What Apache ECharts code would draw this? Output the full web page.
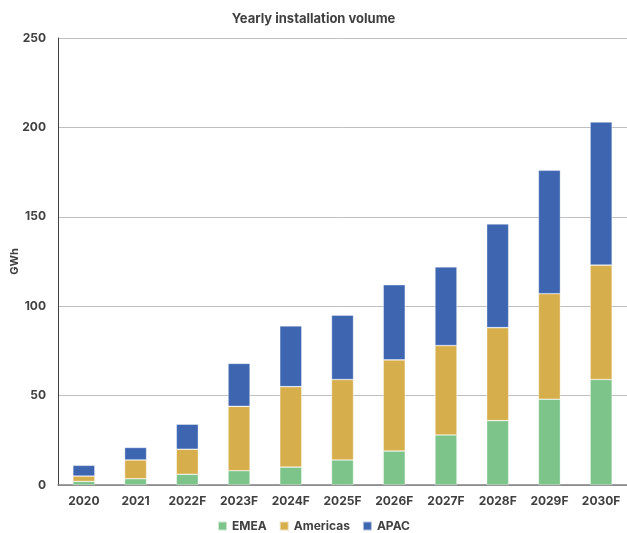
<!DOCTYPE html>
<html><head><meta charset="utf-8">
<script src="https://cdn.jsdelivr.net/npm/echarts@6/dist/echarts.min.js"></script>
<style>html,body{margin:0;padding:0;background:#fff}#c{width:627px;height:533px}</style>
</head><body><div id="c"></div>
<script>
const categories = ['2020','2021','2022F','2023F','2024F','2025F','2026F','2027F','2028F','2029F','2030F'];
const emea = [2, 3.5, 6, 8, 10, 14, 19, 28, 36, 48, 59];
const americas = [3, 10.5, 14, 36, 45, 45, 51, 50, 52, 59, 64];
const apac = [6, 7, 14, 24, 34, 36, 42, 44, 58, 69, 80];
const yTicks = [0, 50, 100, 150, 200, 250];

const font = 'Inter, "Liberation Sans", sans-serif';
const chart = echarts.init(document.getElementById('c'));
const mk = (name, data, color) => ({
  name, type: 'bar', stack: 'total', data, barWidth: 22,
  itemStyle: { color, borderColor: 'rgba(255,255,255,0.6)', borderWidth: 0.6 }
});
chart.setOption({
  animation: false,
  textStyle: { fontFamily: font },
  title: { text: 'Yearly installation volume', left: 'center', top: 8,
    textStyle: { fontSize: 13, fontWeight: 'bold', color: '#404040', fontFamily: font } },
  legend: { bottom: -4, left: 'center', itemWidth: 9, itemHeight: 9, itemGap: 12, icon: 'rect',
    textStyle: { fontSize: 12, fontWeight: 'bold', color: '#404040' },
    data: ['EMEA','Americas','APAC'] },
  grid: { left: 58, right: 0, top: 38, bottom: 48, containLabel: false, outerBoundsMode: 'none' },
  xAxis: { type: 'category', data: categories,
    axisLine: { lineStyle: { color: '#7f7f7f', width: 1.5 } }, axisTick: { show: false },
    axisLabel: { fontSize: 12, fontWeight: 'bold', color: '#404040', margin: 10 } },
  yAxis: { type: 'value', min: yTicks[0], max: yTicks[yTicks.length-1], interval: 50,
    name: 'GWh', nameLocation: 'middle', nameGap: 38, nameRotate: 90, nameMoveOverlap: false,
    nameTextStyle: { fontSize: 11, fontWeight: 'bold', color: '#404040' },
    axisLine: { show: true, lineStyle: { color: '#404040', width: 1 } },
    axisLabel: { fontSize: 12, fontWeight: 'bold', color: '#404040', margin: 12 },
    splitLine: { lineStyle: { color: '#bfbfbf', width: 1 } } },
  series: [
    mk('EMEA', emea, '#7cc489'),
    mk('Americas', americas, '#d6ae4c'),
    mk('APAC', apac, '#3d65b0')
  ]
});
</script></body></html>
